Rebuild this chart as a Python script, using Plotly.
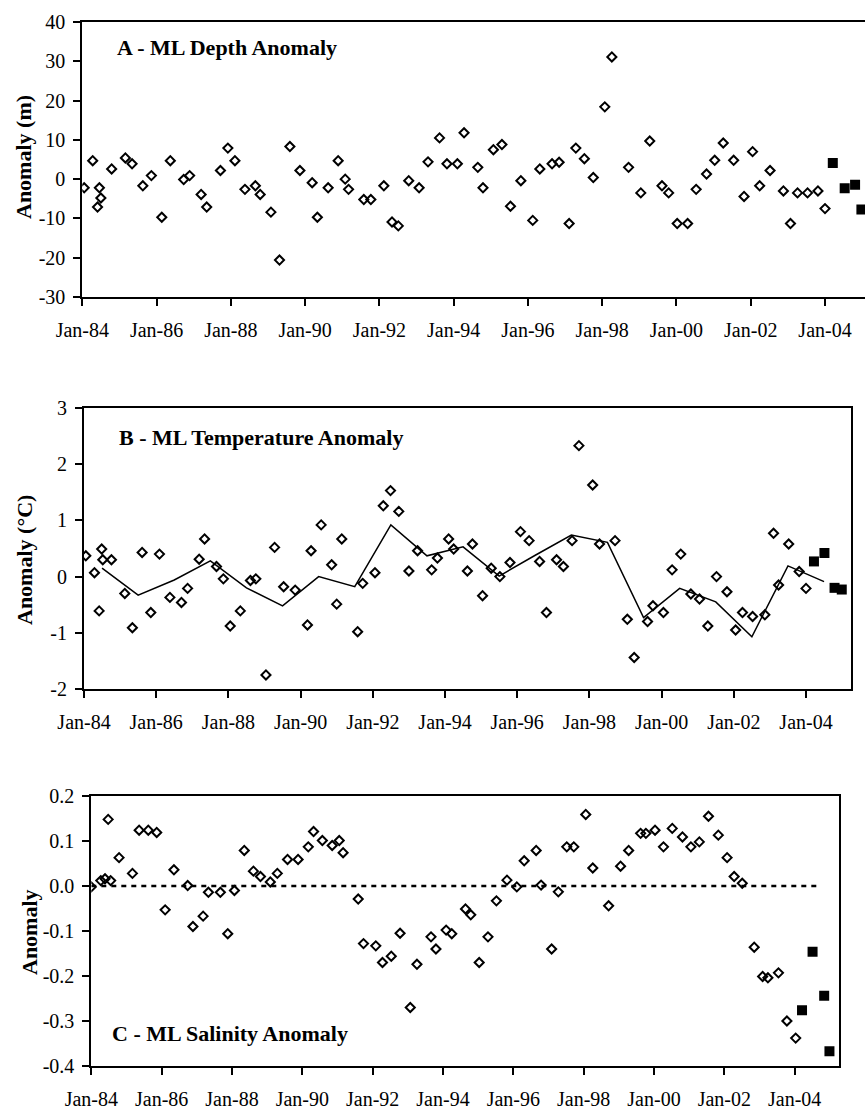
import plotly.graph_objects as go

# ---------------- data ----------------
x_tick_vals = [1984, 1986, 1988, 1990, 1992, 1994, 1996, 1998, 2000, 2002, 2004]
x_tick_text = ["Jan-84", "Jan-86", "Jan-88", "Jan-90", "Jan-92", "Jan-94",
               "Jan-96", "Jan-98", "Jan-00", "Jan-02", "Jan-04"]

# Panel A - ML depth anomaly (m)
depth_t = [1984.05, 1984.28, 1984.41, 1984.46, 1984.50, 1984.79, 1985.16, 1985.34, 1985.63, 1985.86,
           1986.14, 1986.37, 1986.73, 1986.89, 1987.20, 1987.35, 1987.72, 1987.92, 1988.11, 1988.38,
           1988.66, 1988.79, 1989.08, 1989.31, 1989.59, 1989.86, 1990.19, 1990.33, 1990.62, 1990.89,
           1991.08, 1991.17, 1991.58, 1991.77, 1992.12, 1992.34, 1992.51, 1992.79, 1993.07, 1993.31,
           1993.62, 1993.82, 1994.10, 1994.28, 1994.65, 1994.79, 1995.07, 1995.30, 1995.53, 1995.81,
           1996.13, 1996.32, 1996.65, 1996.84, 1997.11, 1997.29, 1997.52, 1997.76, 1998.07, 1998.26,
           1998.71, 1999.04, 1999.28, 1999.61, 1999.79, 2000.02, 2000.30, 2000.53, 2000.81, 2001.03,
           2001.26, 2001.54, 2001.82, 2002.05, 2002.24, 2002.52, 2002.88, 2003.07, 2003.26, 2003.53,
           2003.81, 2004.00]
depth_v = [-2.2, 4.7, -7.1, -2.2, -4.8, 2.6, 5.4, 3.9, -1.7, 0.9,
           -9.7, 4.7, -0.1, 0.9, -3.9, -7.1, 2.2, 7.9, 4.7, -2.6,
           -1.7, -3.9, -8.4, -20.6, 8.3, 2.2, -0.9, -9.7, -2.2, 4.7,
           0.0, -2.6, -5.2, -5.2, -1.7, -10.9, -11.9, -0.4, -2.2, 4.4,
           10.5, 3.9, 3.9, 11.8, 3.0, -2.2, 7.5, 8.8, -6.9, -0.4,
           -10.5, 2.6, 3.9, 4.3, -11.3, 7.9, 5.2, 0.4, 18.4, 31.1,
           3.0, -3.5, 9.7, -1.7, -3.5, -11.3, -11.3, -2.6, 1.3, 4.8,
           9.2, 4.8, -4.4, 7.0, -1.7, 2.2, -3.0, -11.3, -3.5, -3.5,
           -3.0, -7.5]
depth_new_t = [2004.21, 2004.53, 2004.81, 2004.98]
depth_new_v = [4.1, -2.3, -1.4, -7.7]
depth_y_ticks = [-30, -20, -10, 0, 10, 20, 30, 40]
depth_y_text = ["-30", "-20", "-10", "0", "10", "20", "30", "40"]

# Panel B - ML temperature anomaly (°C)
temp_t = [1984.05, 1984.29, 1984.42, 1984.49, 1984.52, 1984.76, 1985.13, 1985.34, 1985.61, 1985.85,
          1986.09, 1986.38, 1986.70, 1986.87, 1987.19, 1987.34, 1987.67, 1987.86, 1988.05, 1988.33,
          1988.61, 1988.76, 1989.04, 1989.28, 1989.53, 1989.85, 1990.19, 1990.29, 1990.57, 1990.86,
          1991.00, 1991.14, 1991.58, 1991.72, 1992.06, 1992.29, 1992.49, 1992.72, 1993.00, 1993.24,
          1993.63, 1993.79, 1994.10, 1994.24, 1994.62, 1994.76, 1995.04, 1995.28, 1995.52, 1995.80,
          1996.09, 1996.33, 1996.62, 1996.81, 1997.09, 1997.28, 1997.52, 1997.71, 1998.09, 1998.28,
          1998.71, 1999.05, 1999.24, 1999.61, 1999.76, 2000.05, 2000.29, 2000.53, 2000.81, 2001.05,
          2001.28, 2001.52, 2001.81, 2002.05, 2002.24, 2002.52, 2002.86, 2003.10, 2003.24, 2003.52,
          2003.81, 2004.00]
temp_v = [0.37, 0.07, -0.61, 0.49, 0.30, 0.30, -0.30, -0.91, 0.43, -0.64,
          0.40, -0.37, -0.46, -0.21, 0.31, 0.67, 0.18, -0.04, -0.88, -0.61,
          -0.07, -0.04, -1.75, 0.52, -0.18, -0.24, -0.86, 0.46, 0.92, 0.21,
          -0.49, 0.67, -0.98, -0.12, 0.07, 1.26, 1.53, 1.16, 0.10, 0.46,
          0.12, 0.33, 0.67, 0.49, 0.10, 0.58, -0.34, 0.15, 0.00, 0.25,
          0.80, 0.64, 0.27, -0.64, 0.30, 0.18, 0.64, 2.33, 1.63, 0.58,
          0.64, -0.76, -1.44, -0.80, -0.52, -0.64, 0.12, 0.40, -0.31, -0.40,
          -0.88, 0.00, -0.27, -0.95, -0.64, -0.71, -0.68, 0.77, -0.15, 0.58,
          0.09, -0.21]
temp_new_t = [2004.22, 2004.51, 2004.79, 2004.99]
temp_new_v = [0.27, 0.42, -0.20, -0.23]
temp_mean_t = [1984.5, 1985.5, 1986.5, 1987.5, 1988.5, 1989.5, 1990.5, 1991.5, 1992.5, 1993.5,
               1994.5, 1995.5, 1996.5, 1997.5, 1998.5, 1999.5, 2000.5, 2001.5, 2002.5, 2003.5,
               2004.5]
temp_mean_v = [0.15, -0.33, -0.06, 0.28, -0.20, -0.52, 0.00, -0.18, 0.92, 0.37,
               0.53, 0.01, 0.38, 0.74, 0.61, -0.73, -0.21, -0.45, -1.07, 0.19,
               -0.09]
temp_y_ticks = [-2, -1, 0, 1, 2, 3]
temp_y_text = ["-2", "-1", "0", "1", "2", "3"]

# Panel C - ML salinity anomaly
sal_t = [1984.00, 1984.27, 1984.39, 1984.48, 1984.55, 1984.79, 1985.17, 1985.36, 1985.62, 1985.86,
         1986.10, 1986.35, 1986.74, 1986.89, 1987.18, 1987.33, 1987.67, 1987.88, 1988.07, 1988.35,
         1988.61, 1988.81, 1989.09, 1989.29, 1989.58, 1989.88, 1990.17, 1990.32, 1990.57, 1990.85,
         1991.05, 1991.16, 1991.59, 1991.74, 1992.09, 1992.28, 1992.53, 1992.78, 1993.07, 1993.26,
         1993.66, 1993.80, 1994.09, 1994.25, 1994.64, 1994.79, 1995.03, 1995.28, 1995.52, 1995.82,
         1996.10, 1996.31, 1996.65, 1996.79, 1997.09, 1997.28, 1997.52, 1997.72, 1998.06, 1998.26,
         1998.71, 1999.05, 1999.28, 1999.62, 1999.77, 2000.03, 2000.27, 2000.52, 2000.81, 2001.05,
         2001.29, 2001.55, 2001.83, 2002.08, 2002.28, 2002.51, 2002.85, 2003.09, 2003.24, 2003.54,
         2003.78, 2004.03]
sal_v = [-0.002, 0.012, 0.016, 0.148, 0.012, 0.063, 0.028, 0.124, 0.124, 0.119,
         -0.053, 0.036, 0.001, -0.090, -0.067, -0.014, -0.014, -0.106, -0.010, 0.079,
         0.033, 0.021, 0.009, 0.028, 0.059, 0.059, 0.087, 0.121, 0.101, 0.090,
         0.101, 0.074, -0.029, -0.128, -0.133, -0.170, -0.156, -0.105, -0.270, -0.174,
         -0.113, -0.140, -0.098, -0.106, -0.051, -0.064, -0.170, -0.113, -0.033, 0.013,
         -0.002, 0.056, 0.079, 0.002, -0.140, -0.013, 0.087, 0.087, 0.159, 0.040,
         -0.044, 0.044, 0.079, 0.117, 0.117, 0.124, 0.087, 0.128, 0.109, 0.087,
         0.098, 0.155, 0.113, 0.063, 0.021, 0.006, -0.136, -0.201, -0.204, -0.193,
         -0.300, -0.338]
sal_new_t = [2004.21, 2004.51, 2004.84, 2004.99]
sal_new_v = [-0.276, -0.146, -0.244, -0.367]
sal_zero_t = [1984.0, 2004.7]
sal_zero_v = [0.0, 0.0]
sal_y_ticks = [-0.4, -0.3, -0.2, -0.1, 0.0, 0.1, 0.2]
sal_y_text = ["-0.4", "-0.3", "-0.2", "-0.1", "0.0", "0.1", "0.2"]

panel_titles = ["A - ML Depth Anomaly", "B - ML Temperature Anomaly", "C - ML Salinity Anomaly"]
y_titles = ["Anomaly (m)", "Anomaly (°C)", "Anomaly"]

# ---------------- figure ----------------
W, H = 865, 1110
FONT = "Liberation Serif, Times New Roman, serif"

fig = go.Figure()

open_marker = dict(symbol="diamond-open", size=7, color="black", line=dict(width=2, color="black"))
fill_marker = dict(symbol="square", size=10, color="black")

fig.add_trace(go.Scatter(x=depth_t, y=depth_v, mode="markers", marker=open_marker,
                         xaxis="x", yaxis="y"))
fig.add_trace(go.Scatter(x=depth_new_t, y=depth_new_v, mode="markers", marker=fill_marker,
                         xaxis="x", yaxis="y"))

fig.add_trace(go.Scatter(x=temp_mean_t, y=temp_mean_v, mode="lines",
                         line=dict(color="black", width=1.5), xaxis="x2", yaxis="y2"))
fig.add_trace(go.Scatter(x=temp_t, y=temp_v, mode="markers", marker=open_marker,
                         xaxis="x2", yaxis="y2"))
fig.add_trace(go.Scatter(x=temp_new_t, y=temp_new_v, mode="markers", marker=fill_marker,
                         xaxis="x2", yaxis="y2"))

fig.add_trace(go.Scatter(x=sal_zero_t, y=sal_zero_v, mode="lines",
                         line=dict(color="black", width=2.5, dash="5px,5px"),
                         xaxis="x3", yaxis="y3"))
fig.add_trace(go.Scatter(x=sal_t, y=sal_v, mode="markers", marker=open_marker,
                         xaxis="x3", yaxis="y3"))
fig.add_trace(go.Scatter(x=sal_new_t, y=sal_new_v, mode="markers", marker=fill_marker,
                         xaxis="x3", yaxis="y3"))


def px_dom_x(left, right):
    return [left / W, min(right / W, 1.0)]


def px_dom_y(top, bottom):
    return [1 - bottom / H, 1 - top / H]


tickfont = dict(family=FONT, size=20, color="black")


def xaxis(dom, rng, anchor):
    return dict(domain=dom, range=rng, tickmode="array", tickvals=x_tick_vals,
                ticktext=x_tick_text, ticks="outside", ticklen=7, tickwidth=1.5,
                tickcolor="black", showline=True, linewidth=2, linecolor="black",
                mirror=True, showgrid=False, zeroline=False, tickfont=tickfont,
                ticklabelstandoff=7, automargin=False, anchor=anchor)


def yaxis(dom, rng, vals, text, anchor, mirror=True):
    return dict(domain=dom, range=rng, tickmode="array", tickvals=vals, ticktext=text,
                ticks="outside", ticklen=7, tickwidth=1.5, tickcolor="black",
                showline=True, linewidth=2, linecolor="black", mirror=mirror,
                showgrid=False, zeroline=False, tickfont=tickfont, anchor=anchor,
                ticklabelstandoff=4, automargin=False)


fig.update_layout(
    width=W, height=H,
    margin=dict(l=0, r=0, t=0, b=0, autoexpand=False),
    paper_bgcolor="white", plot_bgcolor="white",
    showlegend=False,
    xaxis=xaxis(px_dom_x(82.3, 865), [1984, 2005.077], "y"),
    yaxis=yaxis(px_dom_y(22, 297), [-30, 40], depth_y_ticks, depth_y_text, "x", mirror=False),
    xaxis2=xaxis(px_dom_x(84, 851), [1984, 2005.246], "y2"),
    yaxis2=yaxis(px_dom_y(408, 689), [-2, 3], temp_y_ticks, temp_y_text, "x2"),
    xaxis3=xaxis(px_dom_x(91.3, 839.3), [1984, 2005.27], "y3"),
    yaxis3=yaxis(px_dom_y(796, 1066), [-0.4, 0.2], sal_y_ticks, sal_y_text, "x3"),
)

title_pos = [(115, 47), (117, 437), (110, 1033)]
for (tx, ty), txt in zip(title_pos, panel_titles):
    fig.add_annotation(x=tx / W, y=1 - ty / H, xref="paper", yref="paper",
                       xanchor="left", yanchor="middle", showarrow=False,
                       text="<b>" + txt + "</b>",
                       font=dict(family=FONT, size=22, color="black"))

ytitle_pos = [(23, 157), (24, 560), (29, 932)]
for (tx, ty), txt in zip(ytitle_pos, y_titles):
    fig.add_annotation(x=tx / W, y=1 - ty / H, xref="paper", yref="paper",
                       xanchor="center", yanchor="middle", showarrow=False,
                       textangle=-90, text="<b>" + txt + "</b>",
                       font=dict(family=FONT, size=22, color="black"))

fig.write_html("out.html")
